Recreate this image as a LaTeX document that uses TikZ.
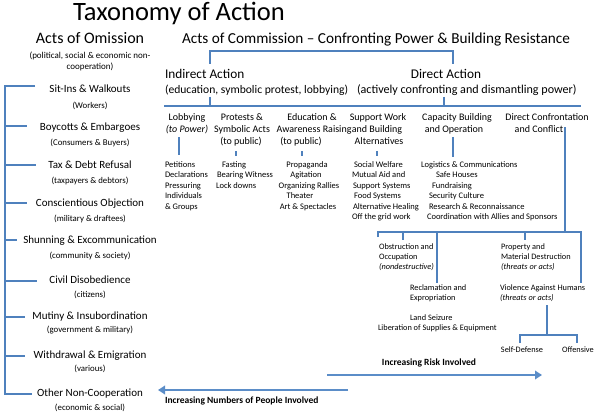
\documentclass[tikz,border=0pt]{standalone}
\usepackage{fontspec}
\setmainfont{Carlito}
\usetikzlibrary{arrows.meta}
\definecolor{lineblue}{RGB}{79,129,189}
\definecolor{arrowblue}{RGB}{91,141,200}
\newcommand\myfs[1]{\fontsize{#1}{#1}\selectfont}
\tikzset{
  tx/.style={inner sep=0pt, outer sep=0pt, text=black},
  ttl/.style={tx, font=\myfs{26.5}, anchor=mid},
  hd/.style={tx, font=\myfs{16}},
  sub/.style={tx, font=\myfs{9}, anchor=mid},
  dh/.style={tx, font=\myfs{13.3}, anchor=mid west},
  dsub/.style={tx, font=\myfs{11.6}, anchor=mid west},
  lefti/.style={tx, font=\myfs{11}, anchor=mid},
  lefts/.style={tx, font=\myfs{8.8}, anchor=mid},
  colh/.style={tx, font=\myfs{10}, anchor=mid},
  li/.style={tx, font=\myfs{8.5}, anchor=mid west},
  lic/.style={tx, font=\myfs{8.5}, anchor=mid},
  lo/.style={tx, font=\myfs{8.3}, anchor=mid west},
  loc/.style={tx, font=\myfs{8.3}, anchor=mid},
  bt/.style={tx, font=\myfs{9.5}\bfseries},
  ln/.style={draw=lineblue, line width=1.7pt},
  arr/.style={draw=arrowblue, line width=2.6pt, -{Triangle[length=7pt,width=8.5pt]}}
}
\begin{document}
\begin{tikzpicture}[x=1pt,y=-1pt]
\useasboundingbox (0,0) rectangle (599,417);
\fill[white] (0,0) rectangle (599,417);

% titles
\node[ttl] (title) at (179,18) {Taxonomy of Action};
\node[hd, anchor=mid] (omis) at (90,41) {Acts of Omission};
\node[sub] (omis1) at (90,56) {(political, social \& economic non-};
\node[sub] (omis2) at (90,67) {cooperation)};
\node[hd, font=\myfs{15.25}, anchor=mid west] (comm) at (182,41) {Acts of Commission – Confronting Power \& Building Resistance};

% indirect / direct
\node[dh] (ind) at (165,76) {Indirect Action};
\node[dsub] (indsub) at (165,91) {(education, symbolic protest, lobbying)};
\node[dh, anchor=mid] (dir) at (446,76) {Direct Action};
\node[dsub, font=\myfs{12.1}] (dirsub) at (357,91) {(actively confronting and dismantling power)};

% top bracket
\coordinate (cbl) at (210,64);
\coordinate (cbtl) at (210,51);
\coordinate (cbtr) at (453,51);
\coordinate (cbr) at (453,64);
\draw[ln] (cbl) -- (cbtl) -- (cbtr) -- (cbr);

% line under
\coordinate (ul) at (164,106);
\coordinate (ur) at (581,106);
\coordinate (uti) at (210,97);
\coordinate (utib) at (210,106);
\coordinate (utd) at (444,97);
\coordinate (utdb) at (444,106);
\draw[ln] (ul) -- (ur);
\draw[ln] (uti) -- (utib);
\draw[ln] (utd) -- (utdb);

% column headers
\node[colh] (lob1) at (187,118) {Lobbying};
\node[colh, font=\myfs{10}\itshape] (lob2) at (187,130) {(to Power)};
\node[colh] (pro1) at (242,118) {Protests \&};
\node[colh] (pro2) at (242,130) {Symbolic Acts};
\node[colh] (pro3) at (241,142) {(to public)};
\node[colh] (edu1) at (312,118) {Education \&};
\node[colh] (edu2) at (314,130) {Awareness Raising};
\node[colh] (edu3) at (301,142) {(to public)};
\node[colh] (sup1) at (378,118) {Support Work};
\node[colh] (sup2) at (377,130) {and Building};
\node[colh] (sup3) at (379,142) {Alternatives};
\node[colh] (cap1) at (457,118) {Capacity Building};
\node[colh] (cap2) at (454,130) {and Operation};
\node[colh] (dc1) at (547,118) {Direct Confrontation};
\node[colh] (dc2) at (539,130) {and Conflict};

% column ticks
\coordinate (lobt1) at (179,137); \coordinate (lobt2) at (179,155);
\coordinate (prot1) at (236,151); \coordinate (prot2) at (236,156);
\coordinate (edut1) at (302,151); \coordinate (edut2) at (302,156);
\coordinate (supt1) at (377,151); \coordinate (supt2) at (377,156);
\coordinate (capt1) at (453,137); \coordinate (capt2) at (453,157);
\draw[ln] (lobt1) -- (lobt2);
\draw[ln, line width=1.2pt] (prot1) -- (prot2);
\draw[ln, line width=1.2pt] (edut1) -- (edut2);
\draw[ln, line width=1.2pt] (supt1) -- (supt2);
\draw[ln] (capt1) -- (capt2);

% lists
\node[li] (a1) at (165,165) {Petitions};
\node[li] (a2) at (165,175.5) {Declarations};
\node[li] (a3) at (165,186) {Pressuring};
\node[li] (a4) at (165,196.5) {Individuals};
\node[li] (a5) at (165,207) {\& Groups};

\node[li] (b1) at (222,165) {Fasting};
\node[li] (b2) at (217,175.5) {Bearing Witness};
\node[li] (b3) at (216,186) {Lock downs};

\node[lic] (c1) at (307,165) {Propaganda};
\node[lic] (c2) at (306,175.5) {Agitation};
\node[lic] (c3) at (309,186) {Organizing Rallies};
\node[lic] (c4) at (300,196.5) {Theater};
\node[lic] (c5) at (308,207) {Art \& Spectacles};

\node[li] (d1) at (354,165) {Social Welfare};
\node[li] (d2) at (352,175.5) {Mutual Aid and};
\node[li] (d3) at (353,186) {Support Systems};
\node[li] (d4) at (354,196.5) {Food Systems};
\node[li] (d5) at (353,207) {Alternative Healing};
\node[li] (d6) at (352,217.5) {Off the grid work};

\node[li] (e1) at (421,165) {Logistics \& Communications};
\node[li] (e2) at (436,175.5) {Safe Houses};
\node[li] (e3) at (432,186) {Fundraising};
\node[li] (e4) at (429,196.5) {Security Culture};
\node[li] (e5) at (429,207) {Research \& Reconnaissance};
\node[li] (e6) at (427,217.5) {Coordination with Allies and Sponsors};

% direct confrontation tree
\coordinate (dct) at (565,127);
\coordinate (dcb) at (565,232);
\coordinate (hl) at (378,232);
\coordinate (hlb) at (378,237);
\coordinate (hr) at (581,232);
\coordinate (hrb) at (581,283);
\coordinate (ob1) at (403,232); \coordinate (ob2) at (403,240);
\coordinate (re1) at (437,232); \coordinate (re2) at (437,283);
\coordinate (pr1) at (525,232); \coordinate (pr2) at (525,240);
\draw[ln] (dct) -- (dcb);
\draw[ln] (hlb) -- (hl) -- (hr) -- (hrb);
\draw[ln] (ob1) -- (ob2);
\draw[ln] (re1) -- (re2);
\draw[ln] (pr1) -- (pr2);

\node[lo] (f1) at (379,247) {Obstruction and};
\node[lo] (f2) at (379,257) {Occupation};
\node[lo, font=\myfs{8.3}\itshape] (f3) at (379,267) {(nondestructive)};
\node[lo] (g1) at (501,247) {Property and};
\node[lo] (g2) at (501,257) {Material Destruction};
\node[lo, font=\myfs{8.3}\itshape] (g3) at (501,267) {(threats or acts)};
\node[lo] (h1) at (410,288) {Reclamation and};
\node[lo] (h2) at (410,298) {Expropriation};
\node[lo] (v1) at (500,288) {Violence Against Humans};
\node[lo, font=\myfs{8.3}\itshape] (v2) at (500,298) {(threats or acts)};
\node[lo] (k1) at (410,318) {Land Seizure};
\node[lo] (k2) at (378,328) {Liberation of Supplies \& Equipment};

\coordinate (vt) at (547,305);
\coordinate (vb) at (547,335);
\coordinate (sdb) at (520,343); \coordinate (sdt) at (520,335);
\coordinate (oft) at (577,335); \coordinate (ofb) at (577,343);
\draw[ln] (vt) -- (vb);
\draw[ln] (sdb) -- (sdt) -- (oft) -- (ofb);
\node[loc] (sd) at (522,350) {Self-Defense};
\node[loc] (of) at (578,350) {Offensive};

% arrows
\coordinate (r1) at (327,375);
\coordinate (r2) at (542,375);
\draw[arr] (r1) -- (r2);
\node[bt, anchor=mid] (risk) at (429,363) {Increasing Risk Involved};
\coordinate (n1) at (348,390);
\coordinate (n2) at (158,390);
\draw[arr] (n1) -- (n2);
\node[bt, anchor=mid west] (num) at (165,401) {Increasing Numbers of People Involved};

% left column
\node[lefti] (s1) at (90,90) {Sit-Ins \& Walkouts};
\node[lefts] (s1b) at (90,106) {(Workers)};
\node[lefti] (s2) at (90,128) {Boycotts \& Embargoes};
\node[lefts] (s2b) at (90,143) {(Consumers \& Buyers)};
\node[lefti] (s3) at (90,166) {Tax \& Debt Refusal};
\node[lefts] (s3b) at (90,181) {(taxpayers \& debtors)};
\node[lefti] (s4) at (90,204) {Conscientious Objection};
\node[lefts] (s4b) at (90,219) {(military \& draftees)};
\node[lefti] (s5) at (90,241) {Shunning \& Excommunication};
\node[lefts] (s5b) at (90,256) {(community \& society)};
\node[lefti] (s6) at (90,281) {Civil Disobedience};
\node[lefts] (s6b) at (90,295) {(citizens)};
\node[lefti] (s7) at (90,317) {Mutiny \& Insubordination};
\node[lefts] (s7b) at (90,330) {(government \& military)};
\node[lefti] (s8) at (90,356) {Withdrawal \& Emigration};
\node[lefts] (s8b) at (90,369) {(various)};
\node[lefti] (s9) at (90,394) {Other Non-Cooperation};
\node[lefts] (s9b) at (90,408) {(economic \& social)};

\coordinate (lv1) at (5,86);  \coordinate (lt1) at (35,86);
\coordinate (lv9) at (5,394); \coordinate (lt9) at (32,394);
\draw[ln] (lt1) -- (lv1) -- (lv9) -- (lt9);
\coordinate (lv2) at (5,126); \coordinate (lt2) at (27,126);
\coordinate (lv3) at (5,165); \coordinate (lt3) at (36,165);
\coordinate (lv4) at (5,203); \coordinate (lt4) at (27,203);
\coordinate (lv5) at (5,240); \coordinate (lt5) at (17,240);
\coordinate (lv6) at (5,281); \coordinate (lt6) at (37,281);
\coordinate (lv7) at (5,317); \coordinate (lt7) at (25,317);
\coordinate (lv8) at (5,356); \coordinate (lt8) at (25,356);
\foreach \i in {2,...,8} { \draw[ln] (lv\i) -- (lt\i); }
\end{tikzpicture}
\end{document}
